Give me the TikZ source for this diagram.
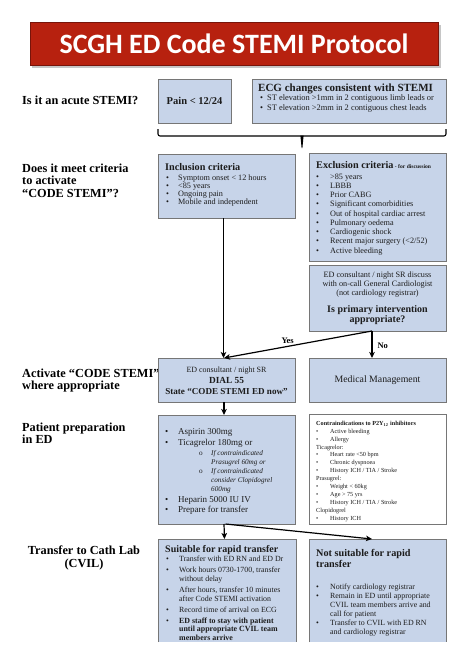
\documentclass[tikz,border=0pt]{standalone}
\usepackage{fontspec}
\setmainfont{Liberation Serif}
\newfontfamily\titlefont{Carlito}
\usetikzlibrary{arrows.meta,calc}
\definecolor{boxblue}{RGB}{199,212,233}
\definecolor{boxgray}{RGB}{118,118,118}
\definecolor{titlered}{RGB}{183,33,15}
\definecolor{titleedge}{RGB}{120,20,10}
\definecolor{ink}{RGB}{28,28,28}
\newcommand{\fs}[2]{\fontsize{#1}{#2}\selectfont}
\newcommand{\bu}{\textbullet}
\begin{document}
\begin{tikzpicture}[x=1pt,y=-1pt,
  boxbase/.style={anchor=north west, inner sep=0pt, outer sep=0pt},
  bluebox/.style={boxbase, draw=boxgray, line width=1pt, fill=boxblue},
  whitebox/.style={boxbase, draw=boxgray, line width=1pt, fill=white},
  txt/.style={inner sep=0pt, text=ink, anchor=base west},
  ctxt/.style={inner sep=0pt, text=ink, anchor=base},
  qlabel/.style={inner sep=0pt, anchor=base west, text=black, font=\fs{12.3}{12.8}\bfseries},
  flow/.style={line width=1.2pt, -{Stealth[length=6pt,width=5.5pt,inset=1.5pt]}},
]
\useasboundingbox[fill=white] (0,0) rectangle (474,670);

% ---------- title ----------
\fill[gray!45] (32,24.5) rectangle (440.5,67.5);
\node[boxbase, fill=titlered, draw=titleedge, line width=0.6pt,
      minimum width=408pt, minimum height=43pt] (title) at (30,22) {};
\node[inner sep=0pt, text=white, font=\titlefont\fs{28}{28}\bfseries] (titletext) at (title.center) {SCGH ED Code STEMI Protocol};

% ---------- left questions ----------
\node[qlabel] (q1) at (22,104.5) {Is it an acute STEMI?};
\node[qlabel] (q2) at (22,172) {\begin{tabular}[t]{@{}l@{}}Does it meet criteria\\to activate\\“CODE STEMI”?\end{tabular}};
\node[qlabel] (q3) at (22,377) {\begin{tabular}[t]{@{}l@{}}Activate “CODE STEMI”\\where appropriate\end{tabular}};
\node[qlabel] (q4) at (22,431) {\begin{tabular}[t]{@{}l@{}}Patient preparation\\in ED\end{tabular}};
\node[qlabel, anchor=base] (q5) at (84,554.5) {\begin{tabular}[t]{@{}c@{}}Transfer to Cath Lab\\(CVIL)\end{tabular}};

% ---------- row 1 ----------
\node[bluebox, minimum width=73pt, minimum height=44pt] (pain) at (158,79) {};
\node[inner sep=0pt, text=ink, font=\fs{10.5}{11}\bfseries] (paintxt) at (pain.center) {Pain < 12/24};
\node[bluebox, minimum width=194pt, minimum height=44pt] (ecg) at (252,79) {};
\node[txt, font=\fs{11}{11}\bfseries] (ecgt) at (258,91) {ECG changes consistent with STEMI};
\node[txt, font=\fs{8.4}{10}] (ecgl) at (260,100.8) {\begin{tabular}[t]{@{}p{7pt}@{}l@{}}\bu&ST elevation >1mm in 2 contiguous limb leads or\\ \bu&ST elevation >2mm in 2 contiguous chest leads\end{tabular}};

% bracket
\draw[line width=1.1pt, rounded corners=2pt] (158,129) -- (158,136) -- (446,136) -- (446,129);
\fill (300.4,135.5) -- (303.6,135.5) -- (302.4,148) -- (301.6,148) -- cycle;

% ---------- row 2 ----------
\node[bluebox, minimum width=137pt, minimum height=64pt] (incl) at (158,154) {};
\node[txt, font=\fs{10.2}{11}\bfseries] (inclt) at (165,170.5) {Inclusion criteria};
\node[txt, font=\fs{8.2}{8.3}] (incll) at (166,180) {\begin{tabular}[t]{@{}p{12pt}@{}l@{}}\bu&Symptom onset < 12 hours\\ \bu&<85 years\\ \bu&Ongoing pain\\ \bu&Mobile and independent\end{tabular}};

\node[bluebox, minimum width=137pt, minimum height=108pt] (excl) at (309,153) {};
\node[txt, font=\fs{10.2}{11}\bfseries] (exclt) at (316,168.5) {Exclusion criteria\fs{5.6}{6}\ - for discussion};
\node[txt, font=\fs{8.2}{9.25}] (excll) at (316,179) {\begin{tabular}[t]{@{}p{14pt}@{}l@{}}\bu&>85 years\\ \bu&LBBB\\ \bu&Prior CABG\\ \bu&Significant comorbidities\\ \bu&Out of hospital cardiac arrest\\ \bu&Pulmonary oedema\\ \bu&Cardiogenic shock\\ \bu&Recent major surgery (<2/52)\\ \bu&Active bleeding\end{tabular}};

\node[bluebox, minimum width=137pt, minimum height=66pt] (disc) at (309,265) {};
\node[ctxt, font=\fs{8.2}{8.8}] (disct) at (377.5,277.8) {\begin{tabular}[t]{@{}c@{}}ED consultant / night SR discuss\\with on-call General Cardiologist\\(not cardiology registrar)\end{tabular}};
\node[ctxt, font=\fs{10}{10}\bfseries] (discq) at (377.5,312.8) {\begin{tabular}[t]{@{}c@{}}Is primary intervention\\appropriate?\end{tabular}};

% ---------- row 3 ----------
\node[bluebox, minimum width=137pt, minimum height=44pt] (act) at (158,358) {};
\node[ctxt, font=\fs{8}{8}] (act1) at (226.5,372) {ED consultant / night SR};
\node[ctxt, font=\fs{9.3}{9.3}\bfseries] (act2) at (226.5,383.5) {DIAL 55};
\node[ctxt, font=\fs{9.1}{9.1}\bfseries] (act3) at (226.5,394.2) {State “CODE STEMI ED now”};

\node[bluebox, minimum width=137pt, minimum height=44pt] (med) at (309,358) {};
\node[inner sep=0pt, text=ink, font=\fs{9.8}{10}] (medt) at (med.center) {Medical Management};

% ---------- row 4 ----------
\node[bluebox, minimum width=137pt, minimum height=109pt] (prep) at (158,415) {};
\node[txt, font=\fs{9}{11}] (prepa) at (165,434.8) {\begin{tabular}[t]{@{}p{13pt}@{}l@{}}\bu&Aspirin 300mg\\ \bu&Ticagrelor 180mg or\end{tabular}};
\node[txt, font=\fs{7.2}{9}\itshape] (prepb) at (199,455.2) {\begin{tabular}[t]{@{}p{12pt}@{}l@{}}\upshape o&If contraindicated\\ &Prasugrel 60mg or\\ \upshape o&If contraindicated\\ &consider Clopidogrel\\ &600mg\end{tabular}};
\node[txt, font=\fs{9}{10}] (prepc) at (165,502.3) {\begin{tabular}[t]{@{}p{13pt}@{}l@{}}\bu&Heparin 5000 IU IV\\ \bu&Prepare for transfer\end{tabular}};

\node[whitebox, minimum width=137pt, minimum height=110pt] (contra) at (309,414) {};
\node[txt, font=\fs{6.2}{7.9}] (contrat) at (316,425.3) {\begin{tabular}[t]{@{}p{14pt}@{}l@{}}\multicolumn{2}{@{}l@{}}{\bfseries Contraindications to P2Y\textsubscript{12} inhibitors}\\ \bu&Active bleeding\\ \bu&Allergy\\ \multicolumn{2}{@{}l@{}}{Ticagrelor:}\\ \bu&Heart rate <50 bpm\\ \bu&Chronic dyspnoea\\ \bu&History ICH / TIA / Stroke\\ \multicolumn{2}{@{}l@{}}{Prasugrel:}\\ \bu&Weight < 60kg\\ \bu&Age > 75 yrs\\ \bu&History ICH / TIA / Stroke\\ \multicolumn{2}{@{}l@{}}{Clopidogrel}\\ \bu&History ICH\end{tabular}};

% ---------- row 5 (open bottom) ----------
\node[boxbase, fill=boxblue, minimum width=138pt, minimum height=103pt] (suit) at (158,539) {};
\draw[boxgray, line width=1pt] (suit.south west) -- (suit.north west) -- (suit.north east) -- (suit.south east);
\node[txt, font=\fs{10}{10}\bfseries] (suitt) at (165,552.3) {Suitable for rapid transfer};
\node[txt, font=\fs{7.9}{8.8}] (suitl) at (166,561.5) {\begin{tabular}[t]{@{}p{13pt}@{}l@{}}\bu&Transfer with ED RN and ED Dr\\[2.2pt] \bu&Work hours 0730-1700, transfer\\ &without delay\\[2.2pt] \bu&After hours, transfer 10 minutes\\ &after Code STEMI activation\\[2.2pt] \bu&Record time of arrival on ECG\\[2.2pt] \bu&\bfseries ED staff to stay with patient\\ &\bfseries until appropriate CVIL team\\ &\bfseries members arrive\end{tabular}};

\node[boxbase, fill=boxblue, minimum width=137pt, minimum height=103pt] (nots) at (309,539) {};
\draw[boxgray, line width=1pt] (nots.south west) -- (nots.north west) -- (nots.north east) -- (nots.south east);
\node[txt, font=\fs{10.2}{10.2}\bfseries] (notst) at (316,556.8) {\begin{tabular}[t]{@{}l@{}}Not suitable for rapid\\transfer\end{tabular}};
\node[txt, font=\fs{7.9}{9.1}] (notsl) at (316,589.4) {\begin{tabular}[t]{@{}p{14pt}@{}l@{}}\bu&Notify cardiology registrar\\ \bu&Remain in ED until appropriate\\ &CVIL team members arrive and\\ &call for patient\\ \bu&Transfer to CVIL with ED RN\\ &and cardiology registrar\end{tabular}};

% ---------- connectors ----------
\coordinate (split) at ($(disc.south)+(-5.5,0)$);
\draw[flow] ([xshift=-3pt]incl.south) -- ([xshift=-3pt]act.north);
\draw[flow] (split) -- node[pos=0.57, above=2pt, inner sep=0pt, font=\fs{8.5}{8.5}\bfseries] (yes) {Yes} ([xshift=-2.5pt]act.north);
\draw[flow] (split) -- node[pos=0.55, right=5pt, inner sep=0pt, font=\fs{8.5}{8.5}\bfseries] (no) {No} (split |- med.north);
\draw[flow] ([xshift=-2.5pt]act.south) -- ([xshift=-2.5pt]prep.north);
\draw[flow] ([xshift=-2.5pt]prep.south) -- ([xshift=-2.5pt]suit.north);
\draw[flow] ([xshift=-1pt]prep.south) -- ([xshift=-5.5pt]nots.north);
\end{tikzpicture}
\end{document}
